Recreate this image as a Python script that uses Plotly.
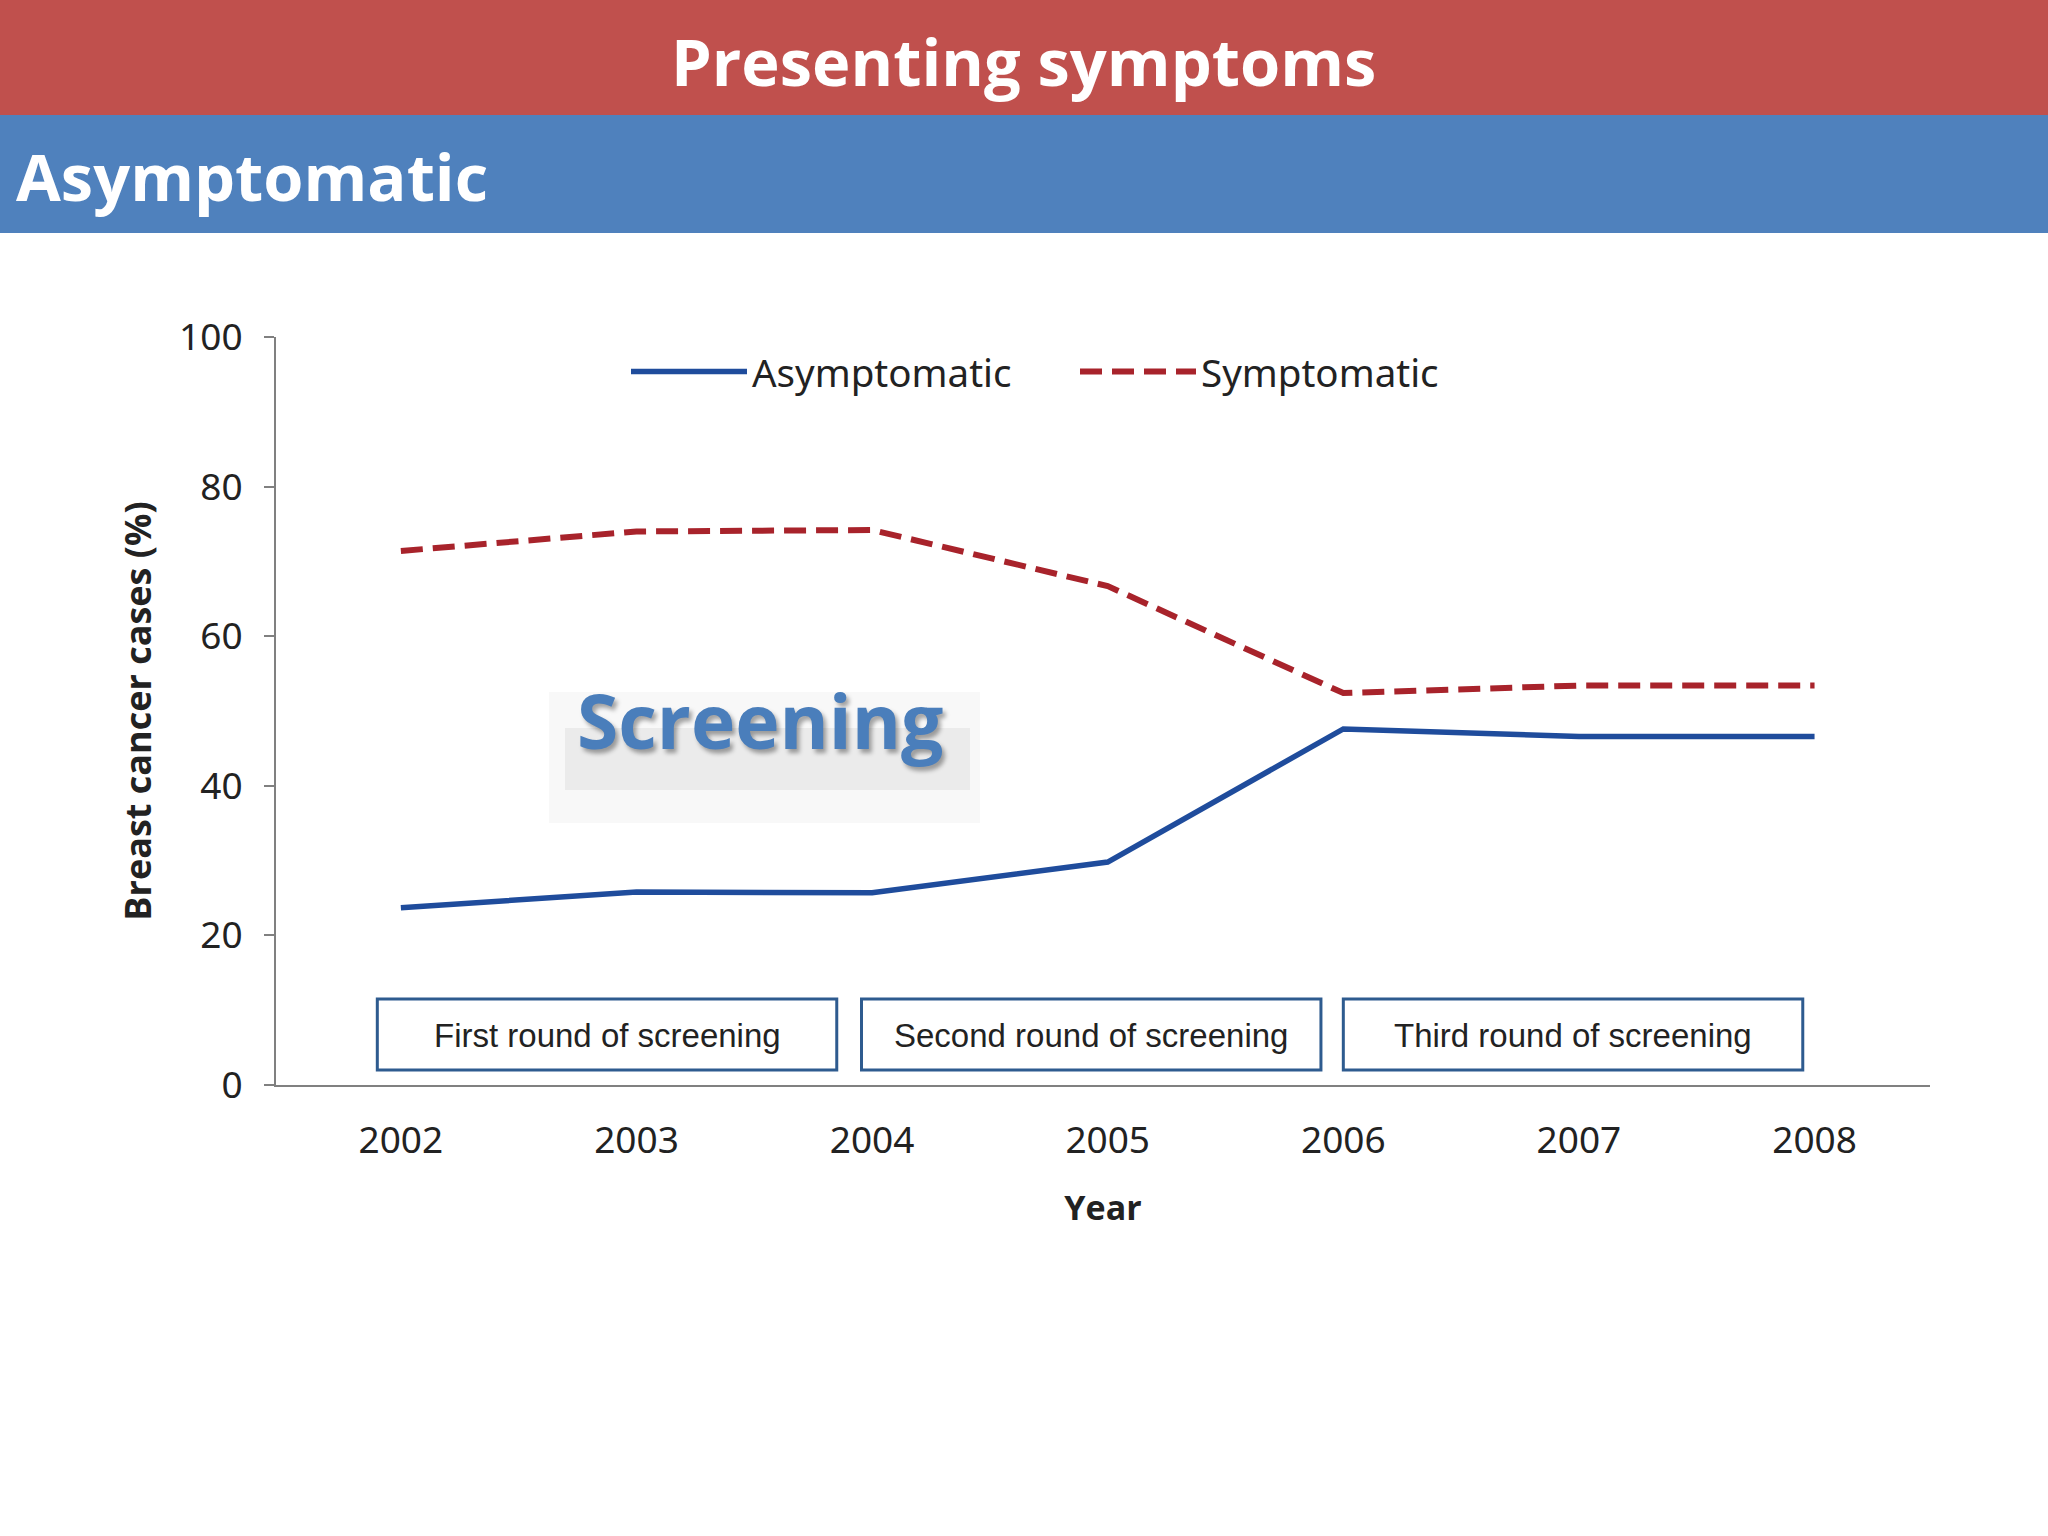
import plotly.graph_objects as go

# ---- data ----
years = [2002, 2003, 2004, 2005, 2006, 2007, 2008]
asymptomatic = [23.7, 25.8, 25.7, 29.8, 47.6, 46.6, 46.6]
symptomatic = [71.4, 74.0, 74.2, 66.7, 52.4, 53.4, 53.4]
y_ticks = [0, 20, 40, 60, 80, 100]
round_labels = ["First round of screening", "Second round of screening", "Third round of screening"]
round_start_years = [2002, 2004, 2006]

W, H = 2048, 1536
L, R, T, B = 276, 1930, 337, 1085  # plot area in px


def px(x):
    return (x - L) / (R - L)


def py(y):
    return (B - y) / (B - T)


fig = go.Figure()
fig.add_trace(go.Scatter(
    x=years, y=asymptomatic, mode="lines", name="Asymptomatic",
    line=dict(color="#1f4c9c", width=5.5),
))
fig.add_trace(go.Scatter(
    x=years, y=symptomatic, mode="lines", name="Symptomatic",
    line=dict(color="#a8232b", width=6, dash="22px,10px"),
))

shapes = []
# header bands
shapes.append(dict(type="rect", xref="paper", yref="paper", x0=px(-5), x1=px(W + 5), y0=py(-5), y1=py(115),
                   fillcolor="#c0504d", line=dict(width=0), layer="below"))
shapes.append(dict(type="rect", xref="paper", yref="paper", x0=px(-5), x1=px(W + 5), y0=py(115), y1=py(233),
                   fillcolor="#4f81bd", line=dict(width=0), layer="below"))
# soft grey shadow behind "Screening"
shapes.append(dict(type="rect", xref="paper", yref="paper", x0=px(549), x1=px(980), y0=py(692), y1=py(823),
                   fillcolor="rgba(225,225,225,0.22)", line=dict(width=0), layer="below"))
shapes.append(dict(type="rect", xref="paper", yref="paper", x0=px(565), x1=px(970), y0=py(728), y1=py(790),
                   fillcolor="rgba(205,205,205,0.30)", line=dict(width=0), layer="below"))

annotations = []
box_offsets = [-0.1, -0.045, 0.0]
for lab, sy, off in zip(round_labels, round_start_years, box_offsets):
    x0 = sy + off
    x1 = x0 + 1.95
    shapes.append(dict(type="rect", xref="x", yref="y", x0=x0, x1=x1, y0=2.0, y1=11.5,
                       fillcolor="white", line=dict(color="#2e5b8f", width=3)))
    annotations.append(dict(x=(x0 + x1) / 2, y=6.6, xref="x", yref="y", text=lab, showarrow=False,
                            xanchor="center", yanchor="middle",
                            font=dict(family="Liberation Sans", size=33, color="#222222")))

annotations.append(dict(x=px(1023), y=py(61), xref="paper", yref="paper", text="<b>Presenting symptoms</b>",
                        showarrow=False, xanchor="center", yanchor="middle",
                        font=dict(family="Open Sans", size=65, color="white")))
annotations.append(dict(x=px(14), y=py(176), xref="paper", yref="paper", xanchor="left", yanchor="middle",
                        text="<b>Asymptomatic</b>",
                        showarrow=False, font=dict(family="Open Sans", size=65, color="white")))
annotations.append(dict(x=px(760), y=py(720), xref="paper", yref="paper", text="<b>Screening</b>",
                        showarrow=False, xanchor="center", yanchor="middle",
                        font=dict(family="Open Sans", size=75, color="#4a7ebb",
                                  shadow="3px 4px 4px rgba(0,0,0,0.35)")))

fig.update_layout(
    width=W, height=H,
    margin=dict(l=L, r=W - R, t=T, b=H - B),
    paper_bgcolor="white", plot_bgcolor="white",
    showlegend=True,
    legend=dict(orientation="h", x=px(626), y=py(372), xanchor="left", yanchor="middle",
                font=dict(family="Noto Sans", size=38.5, color="#222222"),
                itemwidth=116, entrywidth=318, entrywidthmode="pixels", bgcolor="rgba(0,0,0,0)"),
    shapes=shapes,
    annotations=annotations,
    xaxis=dict(range=[2001.47, 2008.49], tickvals=years, ticktext=[str(y) for y in years],
               showline=True, linecolor="#808080", linewidth=2, ticks="", showgrid=False, zeroline=False,
               tickfont=dict(family="Noto Sans", size=37, color="#222222"), ticklabelstandoff=22,
               title=dict(text="<b>Year</b>", font=dict(family="Open Sans", size=34, color="#222222"),
                          standoff=33)),
    yaxis=dict(range=[0, 100], tickvals=y_ticks, showline=True, linecolor="#808080", linewidth=2,
               ticks="outside", ticklen=10, tickwidth=2, tickcolor="#808080", showgrid=False, zeroline=False,
               tickfont=dict(family="Noto Sans", size=37, color="#222222"), ticklabelstandoff=14,
               title=dict(text="<b>Breast cancer cases (%)</b>",
                          font=dict(family="Open Sans", size=36, color="#222222"), standoff=16)),
)

fig.write_html("out.html", config={"displayModeBar": False},
               post_script="document.body.style.margin='0px';")
